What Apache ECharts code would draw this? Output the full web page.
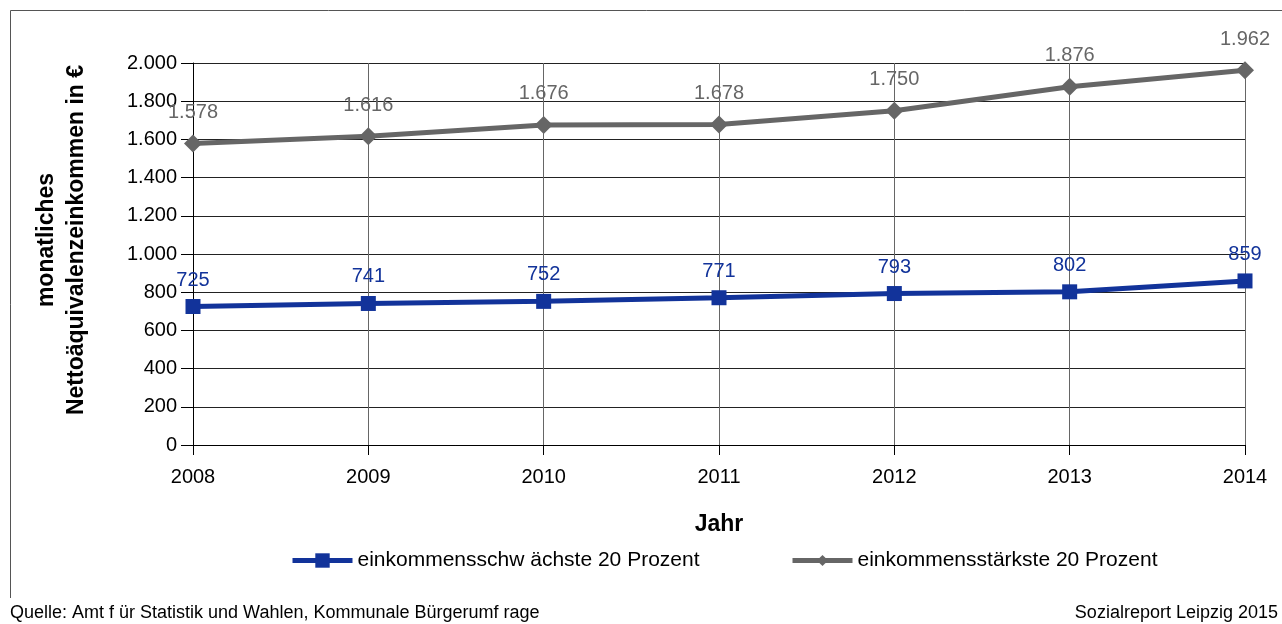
<!DOCTYPE html>
<html>
<head>
<meta charset="utf-8">
<script src="https://cdn.jsdelivr.net/npm/echarts@6/dist/echarts.min.js"></script>
<style>
  html, body { margin: 0; padding: 0; background: #fff; }
  #chart { width: 1282px; height: 624px; }
</style>
</head>
<body>
<div id="chart"></div>
<script>
// Jahre und monatliche Nettoäquivalenzeinkommen (Euro)
const years = ['2008', '2009', '2010', '2011', '2012', '2013', '2014'];
const lowest20 = [725, 741, 752, 771, 793, 802, 859];
const highest20 = [1578, 1616, 1676, 1678, 1750, 1876, 1962];
const seriesNames = ['einkommensschw ächste 20 Prozent', 'einkommensstärkste 20 Prozent'];

const FONT = '"Liberation Sans", Arial, Helvetica, sans-serif';
const BLUE = '#12339a';
const GREY = '#666666';

// Tausendertrennzeichen mit Punkt
const fmt = v => String(v).replace(/\B(?=(\d{3})+(?!\d))/g, '.');

const legendBase = {
  top: 545,
  itemWidth: 60,
  lineStyle: { width: 5 },
  textStyle: { fontFamily: FONT, fontSize: 21, color: '#000' }
};

const chart = echarts.init(document.getElementById('chart'));
chart.setOption({
  animation: false,
  backgroundColor: '#fff',
  textStyle: { fontFamily: FONT },
  grid: { left: 193, right: 37, top: 63, bottom: 179, containLabel: false, outerBoundsMode: 'none' },
  xAxis: {
    type: 'category',
    data: years,
    boundaryGap: false,
    name: 'Jahr',
    nameLocation: 'middle',
    nameGap: 68,
    nameTextStyle: { fontFamily: FONT, fontSize: 23, fontWeight: 'bold', color: '#000' },
    axisLine: { lineStyle: { color: '#000', width: 1 } },
    axisTick: { show: true, length: 10, lineStyle: { color: '#000' } },
    axisLabel: { fontFamily: FONT, fontSize: 20, color: '#000', margin: 22 },
    splitLine: { show: true, lineStyle: { color: '#666', width: 1 } }
  },
  yAxis: {
    type: 'value',
    min: 0,
    max: 2000,
    interval: 200,
    name: 'monatliches\nNettoäquivalenzeinkommen in €',
    nameLocation: 'middle',
    nameGap: 101,
    nameRotate: 90,
    nameTextStyle: {
      fontFamily: FONT, fontSize: 23, fontWeight: 'bold', color: '#000',
      lineHeight: 30, padding: [0, 0, 0, 28]
    },
    axisLine: { show: true, lineStyle: { color: '#000', width: 1 } },
    axisTick: { show: true, length: 12, lineStyle: { color: '#000' } },
    axisLabel: { fontFamily: FONT, fontSize: 20, color: '#000', margin: 16, formatter: fmt },
    splitLine: { show: true, lineStyle: { color: '#222', width: 1 } }
  },
  legend: [
    Object.assign({ left: 285, itemHeight: 18, data: [seriesNames[0]] }, legendBase),
    Object.assign({ left: 785, itemHeight: 14, data: [seriesNames[1]] }, legendBase)
  ],
  series: [
    {
      name: seriesNames[0],
      type: 'line',
      data: lowest20,
      symbol: 'rect',
      symbolSize: 15,
      lineStyle: { color: BLUE, width: 5 },
      itemStyle: { color: BLUE },
      label: {
        show: true, position: 'top', distance: 9, formatter: p => fmt(p.value),
        fontFamily: FONT, fontSize: 20, color: BLUE
      },
      z: 3
    },
    {
      name: seriesNames[1],
      type: 'line',
      data: highest20,
      symbol: 'diamond',
      symbolSize: 18,
      lineStyle: { color: GREY, width: 5 },
      itemStyle: { color: GREY },
      label: {
        show: true, position: 'top', distance: 12, formatter: p => fmt(p.value),
        fontFamily: FONT, fontSize: 20, color: GREY
      },
      z: 3
    }
  ],
  graphic: [
    {
      type: 'polyline', silent: true,
      shape: { points: [[10.5, 598], [10.5, 10.5], [1282, 10.5]] },
      style: { fill: 'none', stroke: '#555', lineWidth: 1 }
    },
    {
      type: 'text', left: 10, top: 604,
      style: { text: 'Quelle: Amt f ür Statistik und Wahlen, Kommunale Bürgerumf rage', font: '18px ' + FONT, fill: '#000' }
    },
    {
      type: 'text', right: 4, top: 604,
      style: { text: 'Sozialreport Leipzig 2015', font: '18px ' + FONT, fill: '#000' }
    }
  ]
});
</script>
</body>
</html>
